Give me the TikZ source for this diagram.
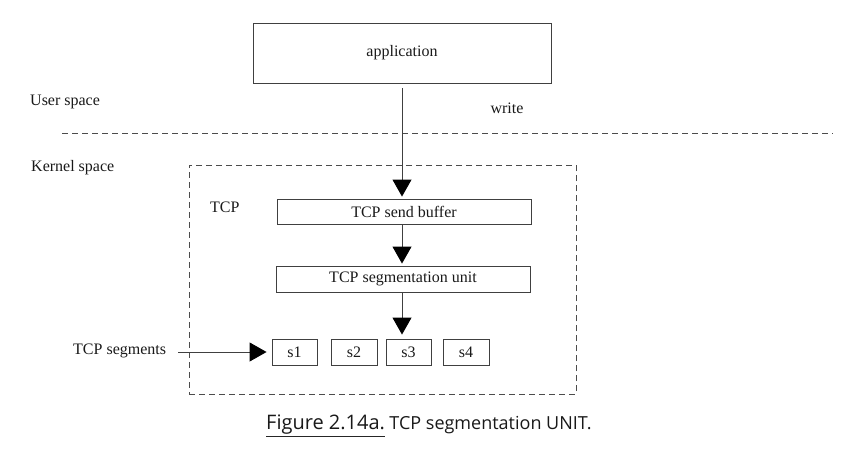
\documentclass[tikz,border=0pt]{standalone}
\usepackage{fontspec}
\setmainfont{Liberation Serif}
\newfontfamily\capfont{Open Sans}
\usetikzlibrary{arrows.meta,calc}
\begin{document}
\begin{tikzpicture}[x=1pt,y=-1pt,
  every node/.style={font=\fontsize{16}{18}\selectfont, text=black!90},
  boxnode/.style={draw=black!75, line width=0.9pt, inner sep=0pt, rectangle},
  lbl/.style={inner sep=0pt, anchor=west},
  arr/.style={draw=black!75, line width=0.9pt, -{Triangle[width=19pt,length=17pt,fill=black,color=black]}},
  dline/.style={draw=black!70, line width=0.9pt, dash pattern=on 6pt off 4pt}]
\useasboundingbox (0,0) rectangle (858,458);
\node[boxnode, minimum width=298pt, minimum height=60pt] (app) at (402,53) {application};
\node[boxnode, minimum width=254pt, minimum height=25pt] (buf) at (404,211.5) {TCP send buffer};
\node[boxnode, minimum width=254pt, minimum height=26pt] (seg) at (403,279) {TCP segmentation unit};
\node[boxnode, minimum width=45pt, minimum height=26pt] (s1) at (294.5,352) {s1};
\node[boxnode, minimum width=46pt, minimum height=26pt] (s2) at (354,352) {s2};
\node[boxnode, minimum width=45pt, minimum height=26pt] (s3) at (408.5,352) {s3};
\node[boxnode, minimum width=46pt, minimum height=26pt] (s4) at (466,352) {s4};
\node[dline, rectangle, inner sep=0pt, minimum width=387pt, minimum height=229pt] (tcpbox) at (382.5,279.5) {};
\coordinate (dl) at (62,133);
\coordinate (dr) at (833,133);
\draw[dline] (dl) -- (dr);
\node[lbl] (user) at (30,102) {User space};
\node (write) at (507,108) {write};
\node[lbl] (kernel) at (31,168) {Kernel space};
\node[lbl] (tcp) at (210,207) {TCP};
\node[lbl] (segs) at (73,351) {TCP segments};
\coordinate (a1s) at (402,88);
\draw[arr, shorten >=2pt] (a1s) -- (a1s |- buf.north);
\draw[arr, shorten >=2pt] (a1s |- buf.south) -- (a1s |- seg.north);
\draw[arr, shorten >=4pt] (a1s |- seg.south) -- (a1s |- s3.north);
\draw[arr, shorten <=12pt, shorten >=5pt] (segs.east |- s1.west) -- (s1.west);
\node[inner sep=0pt, anchor=base west, font=\capfont\fontsize{20}{24}\selectfont] (fig) at (266,429) {Figure 2.14a.};
\draw[line width=1.6pt, black!85] ($(fig.south west)+(0,2.5)$) -- ($(fig.south east)+(0,2.5)$);
\node[inner sep=0pt, anchor=base west, font=\capfont\fontsize{18}{21}\selectfont] (cap) at ($(fig.base east)+(4,0)$) {TCP segmentation UNIT.};
\end{tikzpicture}
\end{document}
